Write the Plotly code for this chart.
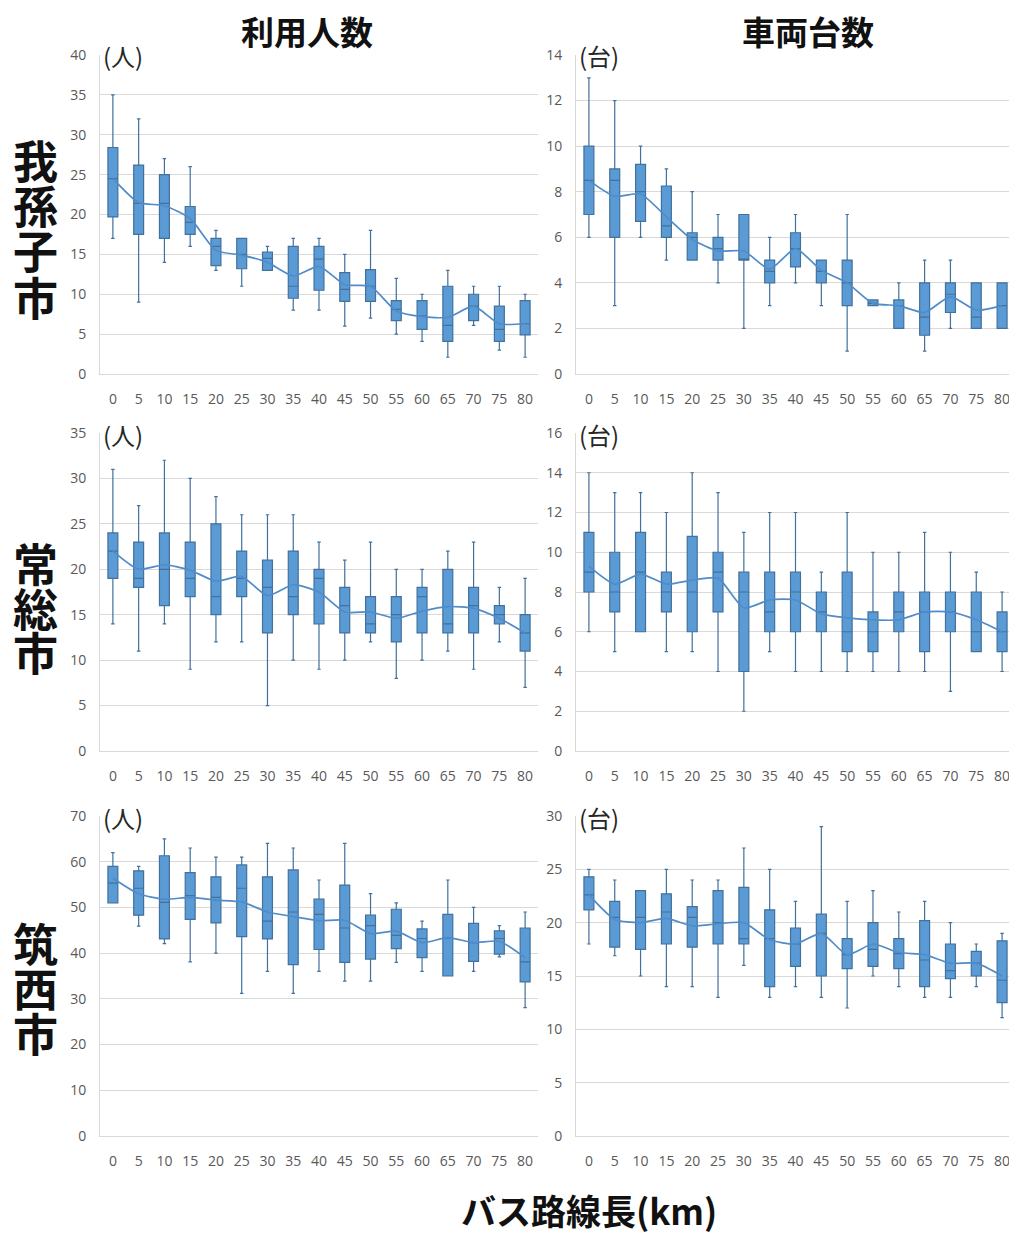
import plotly.graph_objects as go

# ---------------- data ----------------
cats = ['0', '5', '10', '15', '20', '25', '30', '35', '40', '45', '50', '55', '60', '65', '70', '75', '80']

col_titles = ['利用人数', '車両台数']
row_titles = ['我孫子市', '常総市', '筑西市']
x_title = 'バス路線長(km)'
unit_labels = ['(人)', '(台)']

# 我孫子市 利用人数
abiko_riders_max = [35, 32, 27, 26, 18, 17, 16, 17, 17, 15, 18, 12, 10, 13, 11, 11, 10]
abiko_riders_q3 = [28.4, 26.2, 25, 21, 17, 17, 15.3, 16, 16, 12.7, 13.1, 9.2, 9.2, 11, 10, 8.5, 9.2]
abiko_riders_med = [24.5, 21.4, 21.4, 19, 16, 15, 14.5, 11, 14.4, 10.6, 11, 8.1, 7.3, 6.1, 8.5, 5.6, 6.3]
abiko_riders_q1 = [19.7, 17.5, 17, 17.5, 13.6, 13.2, 13, 9.5, 10.5, 9.1, 9.1, 6.7, 5.6, 4.1, 6.7, 4.1, 4.9]
abiko_riders_min = [17, 9, 14, 16, 13, 11, 13, 8, 8, 6, 7, 5, 4.1, 2.1, 6.1, 3, 2.1]
abiko_riders_mean = [24.5, 21.5, 21.1, 19.5, 15.5, 14.9, 14, 12.3, 13.5, 11.2, 11, 7.9, 7.2, 7.1, 8.5, 6.3, 6.3]

# 我孫子市 車両台数
abiko_buses_max = [13, 12, 10, 9, 8, 7, 7, 6, 7, 5, 7, 3.25, 4, 5, 5, 4, 4]
abiko_buses_q3 = [10, 9, 9.2, 8.25, 6.2, 6, 7, 5, 6.2, 5, 5, 3.25, 3.25, 4, 4, 4, 4]
abiko_buses_med = [8.5, 8.5, 8, 6.5, 6, 5.5, 5, 4.5, 5.5, 4.5, 4, 3.1, 3, 2.5, 3.5, 2.5, 3]
abiko_buses_q1 = [7, 6, 6.7, 6, 5, 5, 5, 4, 4.7, 4, 3, 3, 2, 1.7, 2.7, 2, 2]
abiko_buses_min = [6, 3, 6, 5, 5, 4, 2, 3, 4, 3, 1, 3, 2, 1, 2, 2, 2]
abiko_buses_mean = [8.5, 7.8, 7.9, 6.9, 5.9, 5.4, 5.4, 4.6, 5.5, 4.55, 4.0, 3.1, 3, 2.7, 3.4, 2.8, 3]

# 常総市 利用人数
joso_riders_max = [31, 27, 32, 30, 28, 26, 26, 26, 23, 21, 23, 20, 20, 22, 23, 18, 19]
joso_riders_q3 = [24, 23, 24, 23, 25, 22, 21, 22, 20, 18, 17, 17, 18, 20, 18, 16, 15]
joso_riders_med = [22, 19, 20, 19, 17, 19, 18, 17, 19, 16, 14, 15, 17, 14, 16, 15, 13]
joso_riders_q1 = [19, 18, 16, 17, 15, 17, 13, 15, 14, 13, 13, 12, 13, 13, 13, 14, 11]
joso_riders_min = [14, 11, 14, 9, 12, 12, 5, 10, 9, 10, 12, 8, 10, 11, 9, 12, 7]
joso_riders_mean = [22, 20, 20.5, 19.9, 18.7, 19.2, 17.1, 18.3, 17.5, 15.3, 15.3, 14.6, 15.4, 15.9, 15.7, 14.6, 13]

# 常総市 車両台数
joso_buses_max = [14, 13, 13, 12, 14, 13, 11, 12, 12, 9, 12, 10, 10, 11, 10, 9, 8]
joso_buses_q3 = [11, 10, 11, 9, 10.8, 10, 9, 9, 9, 8, 9, 7, 8, 8, 8, 8, 7]
joso_buses_med = [9, 8, 9, 8, 8, 9, 8, 7, 8, 7, 6, 6, 7, 7, 7, 6, 6]
joso_buses_q1 = [8, 7, 6, 7, 6, 7, 4, 6, 6, 6, 5, 5, 6, 5, 6, 5, 5]
joso_buses_min = [6, 5, 6, 5, 5, 4, 2, 5, 4, 4, 4, 4, 4, 4, 3, 5, 4]
joso_buses_mean = [9.3, 8.4, 8.9, 8.4, 8.6, 8.7, 7.2, 7.6, 7.6, 6.9, 6.7, 6.6, 6.6, 7.0, 7.0, 6.6, 6]

# 筑西市 利用人数
chikusei_riders_max = [62, 59, 65, 63, 61, 61, 64, 63, 56, 64, 53, 51, 47, 56, 50, 46, 49]
chikusei_riders_q3 = [59, 58, 61.3, 57.6, 56.7, 59.3, 56.7, 58.2, 51.8, 54.9, 48.3, 49.6, 45.3, 48.5, 46.5, 44.9, 45.5]
chikusei_riders_med = [55.3, 54.2, 51.1, 52.6, 52.2, 54.2, 47, 49, 48.5, 45.5, 46, 43.9, 43.2, 43.2, 42.3, 43.2, 38.1]
chikusei_riders_q1 = [51, 48.3, 43.1, 47.4, 46.6, 43.6, 43.1, 37.5, 40.8, 38, 38.7, 41, 39, 35, 38.2, 39.8, 33.7]
chikusei_riders_min = [51, 45.9, 42.1, 38.1, 40, 31.2, 36, 31.2, 36, 33.9, 33.9, 38, 36, 35, 36, 39.2, 28.1]
chikusei_riders_mean = [56.4, 53, 51.8, 52.2, 51.6, 51.2, 49, 48, 47.1, 47.2, 44.3, 44.8, 42.3, 43.4, 42.3, 42.6, 39]

# 筑西市 車両台数
chikusei_buses_max = [25, 24, 23, 25, 24, 24, 27, 25, 22, 29, 22, 23, 21, 22, 20, 18, 19]
chikusei_buses_q3 = [24.3, 22, 23, 22.7, 21.5, 23, 23.3, 21.2, 19.5, 20.8, 18.5, 20, 18.5, 20.2, 18, 17.3, 18.3]
chikusei_buses_med = [22.6, 20.5, 20.5, 21, 20.5, 20, 18.5, 18.5, 18, 19, 17, 17.5, 17.1, 16.5, 15.5, 16.2, 14.6]
chikusei_buses_q1 = [21.2, 17.7, 17.5, 18, 17.7, 18, 18, 14, 15.9, 15, 15.7, 15.9, 15.7, 14, 14.75, 15, 12.5]
chikusei_buses_min = [18, 16.9, 15, 14, 14, 13, 16, 13, 14, 13, 12, 15, 14, 13, 13, 14, 11.1]
chikusei_buses_mean = [22.6, 20.3, 20, 20.4, 19.7, 19.9, 20, 18.4, 18, 19, 17, 18, 17.2, 17, 16.2, 16.2, 15]

y_ranges = [40, 14, 35, 16, 70, 30]
y_dticks = [5, 2, 5, 2, 10, 5]

panels = [
    (abiko_riders_min, abiko_riders_q1, abiko_riders_med, abiko_riders_q3, abiko_riders_max, abiko_riders_mean),
    (abiko_buses_min, abiko_buses_q1, abiko_buses_med, abiko_buses_q3, abiko_buses_max, abiko_buses_mean),
    (joso_riders_min, joso_riders_q1, joso_riders_med, joso_riders_q3, joso_riders_max, joso_riders_mean),
    (joso_buses_min, joso_buses_q1, joso_buses_med, joso_buses_q3, joso_buses_max, joso_buses_mean),
    (chikusei_riders_min, chikusei_riders_q1, chikusei_riders_med, chikusei_riders_q3, chikusei_riders_max, chikusei_riders_mean),
    (chikusei_buses_min, chikusei_buses_q1, chikusei_buses_med, chikusei_buses_q3, chikusei_buses_max, chikusei_buses_mean),
]

# ---------------- layout helpers ----------------
# page body has an 8px margin, so the figure is drawn 8px smaller and
# every reference pixel position is shifted by that offset
OFF = 8
W, H = 1017 - OFF, 1234 - OFF


def fx(x):
    return (x - OFF) / W


def fy(y):
    return 1 - (y - OFF) / H


col_px = [(100, 538), (576, 1015)]
row_px = [(55, 374), (433, 751), (816, 1136)]

FILL = '#5B9BD5'
EDGE = '#41719C'
GRID = '#D9D9D9'
TICK_FONT = dict(family='Open Sans, Segoe UI, sans-serif', size=14, color='#595959')
CJK = 'Noto Sans CJK JP'

fig = go.Figure()
layout = dict(
    template='none',
    width=W, height=H,
    margin=dict(l=0, r=0, t=0, b=0, pad=0),
    paper_bgcolor='white', plot_bgcolor='white',
    showlegend=False,
    boxgap=0.45,
    annotations=[],
)

for i, (mn, q1, med, q3, mx, mean) in enumerate(panels):
    r, c = divmod(i, 2)
    n = i + 1
    xa = 'x' if n == 1 else f'x{n}'
    ya = 'y' if n == 1 else f'y{n}'
    fig.add_trace(go.Box(
        x=cats, q1=q1, median=med, q3=q3, lowerfence=mn, upperfence=mx,
        xaxis=xa, yaxis=ya,
        fillcolor=FILL, line=dict(color=EDGE, width=1.2),
        whiskerwidth=0.35, boxpoints=False, hoverinfo='skip',
    ))
    fig.add_trace(go.Scatter(
        x=cats, y=mean, xaxis=xa, yaxis=ya, mode='lines',
        line=dict(color='#4F8CC9', width=1.7, shape='spline', smoothing=0.6),
        hoverinfo='skip',
    ))
    x0, x1 = col_px[c]
    y0, y1 = row_px[r]
    layout[f'xaxis{"" if n == 1 else n}'] = dict(
        domain=[fx(x0), fx(x1)], anchor=ya, type='category', automargin=False,
        categoryorder='array', categoryarray=cats, range=[-0.5, 16.5],
        showgrid=False, showline=True, linecolor=GRID, linewidth=1,
        ticks='', tickfont=TICK_FONT, ticklabelstandoff=12, zeroline=False,
    )
    layout[f'yaxis{"" if n == 1 else n}'] = dict(
        domain=[fy(y1), fy(y0)], anchor=xa, range=[0, y_ranges[i]], automargin=False,
        dtick=y_dticks[i], tick0=0, showgrid=True, gridcolor=GRID, gridwidth=1.3,
        showline=True, linecolor=GRID, linewidth=1, zeroline=False,
        ticks='', tickfont=TICK_FONT, ticklabelstandoff=10,
    )
    # unit label
    layout['annotations'].append(dict(
        text=unit_labels[c], xref='paper', yref='paper',
        x=fx(x0 + 1), y=fy(y0 + 1), xanchor='left', yanchor='middle',
        showarrow=False, font=dict(family=CJK, size=24, color='#262626'),
    ))

# column titles
for c, t in enumerate(col_titles):
    layout['annotations'].append(dict(
        text=f'<b>{t}</b>', xref='paper', yref='paper',
        x=fx([307, 808][c]), y=fy(31), xanchor='center', yanchor='middle',
        showarrow=False, font=dict(family=CJK, size=33, color='#111111'),
    ))

# row titles (vertical, one glyph per line)
row_char_centers = [[160, 205, 250, 296], [562, 607, 651], [942, 987, 1032]]
for r, t in enumerate(row_titles):
    for ch, yc in zip(t, row_char_centers[r]):
        layout['annotations'].append(dict(
            text=f'<b>{ch}</b>', xref='paper', yref='paper',
            x=fx(35), y=fy(yc), xanchor='center', yanchor='middle',
            showarrow=False, font=dict(family=CJK, size=45, color='#111111'),
        ))

# x title
layout['annotations'].append(dict(
    text=f'<b>{x_title}</b>', xref='paper', yref='paper',
    x=fx(589), y=fy(1209), xanchor='center', yanchor='middle',
    showarrow=False, font=dict(family=CJK, size=35, color='#111111'),
))

fig.update_layout(**layout)
fig.write_html('out.html')
